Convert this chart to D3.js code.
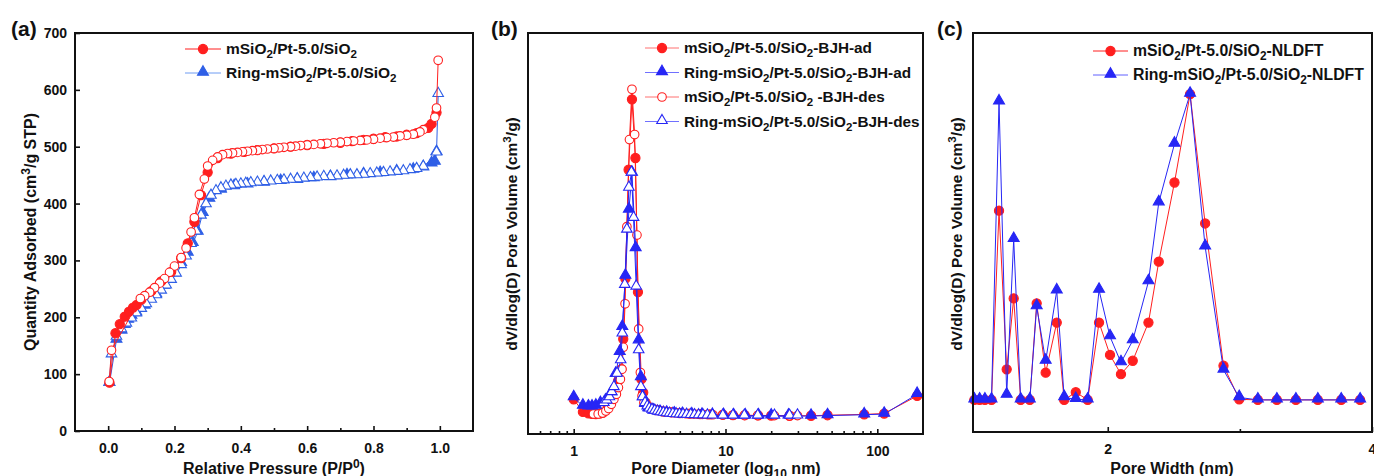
<!DOCTYPE html>
<html>
<head>
<meta charset="utf-8">
<script src="https://cdn.jsdelivr.net/npm/d3@7"></script>
<style>
  body { margin: 0; background: #fff; }
  svg { display: block; }
  text { font-family: Arial, "Liberation Sans", sans-serif; font-weight: bold; fill: #111; }
</style>
</head>
<body>
<div id="chart"></div>
<script>
// ---------- (a) N2 isotherms ----------
const isoRedAdsP = [0.004, 0.022, 0.035, 0.05, 0.063, 0.075, 0.086, 0.1, 0.13, 0.16, 0.19, 0.22, 0.24, 0.26, 0.28, 0.30, 0.33, 0.37, 0.41, 0.45, 0.5, 0.55, 0.6, 0.65, 0.7, 0.735, 0.77, 0.80, 0.835, 0.87, 0.9, 0.93, 0.965, 0.975, 0.99];
const isoRedAdsV = [85, 172, 188, 201, 210, 217, 222, 231, 246, 263, 280, 304, 330, 368, 415, 455, 480, 488, 491, 494, 497, 500, 503, 505, 507, 510, 512, 514, 517, 518, 521, 524, 533, 540, 560];
const isoRedDesP = [0.995, 0.99, 0.985, 0.95, 0.94, 0.92, 0.90, 0.88, 0.86, 0.84, 0.82, 0.80, 0.78, 0.76, 0.74, 0.72, 0.70, 0.68, 0.66, 0.64, 0.62, 0.60, 0.58, 0.565, 0.55, 0.53, 0.515, 0.50, 0.48, 0.465, 0.45, 0.435, 0.42, 0.405, 0.39, 0.375, 0.36, 0.345, 0.33, 0.315, 0.30, 0.29, 0.275, 0.26, 0.25, 0.235, 0.22, 0.20, 0.185, 0.17, 0.155, 0.14, 0.125, 0.11, 0.097, 0.01, 0.003];
const isoRedDesV = [652, 568, 552, 530, 526, 522, 520, 519, 517, 516, 515, 513, 512, 511, 510, 509, 508, 507, 506, 505, 504, 503, 502, 501, 500, 499, 498, 497, 496, 495, 494, 493, 492, 491, 490, 489, 488, 486, 482, 476, 466, 443, 416, 375, 350, 322, 305, 290, 279, 268, 260, 252, 244, 238, 233, 142, 87];
const isoBlueAdsP = [0.004, 0.025, 0.04, 0.05, 0.06, 0.07, 0.085, 0.11, 0.145, 0.17, 0.2, 0.22, 0.24, 0.255, 0.27, 0.285, 0.305, 0.34, 0.38, 0.42, 0.47, 0.52, 0.57, 0.62, 0.67, 0.72, 0.77, 0.82, 0.87, 0.92, 0.95, 0.975, 0.985, 0.99];
const isoBlueAdsV = [84, 160, 176, 186, 195, 202, 208, 220, 240, 255, 277, 295, 313, 330, 350, 383, 408, 424, 430, 433, 436, 439, 441, 444, 446, 449, 451, 453, 456, 459, 463, 470, 473, 490];
const isoBlueDesP = [0.995, 0.99, 0.95, 0.93, 0.91, 0.89, 0.87, 0.85, 0.83, 0.81, 0.79, 0.77, 0.75, 0.73, 0.71, 0.69, 0.67, 0.65, 0.63, 0.61, 0.59, 0.57, 0.55, 0.53, 0.51, 0.49, 0.47, 0.45, 0.43, 0.415, 0.40, 0.385, 0.37, 0.355, 0.34, 0.325, 0.31, 0.295, 0.28, 0.265, 0.25, 0.235, 0.22, 0.205, 0.19, 0.175, 0.16, 0.145, 0.13, 0.115, 0.1, 0.085, 0.07, 0.055, 0.04, 0.025, 0.01, 0.003];
const isoBlueDesV = [592, 489, 464, 460, 458, 456, 455, 454, 453, 452, 451, 450, 449, 449, 448, 447, 446, 446, 445, 444, 443, 442, 441, 440, 439, 438, 437, 436, 435, 434, 433, 432, 431, 429, 426, 421, 413, 398, 378, 350, 328, 306, 291, 276, 265, 255, 246, 238, 230, 222, 214, 206, 197, 188, 178, 165, 134, 84];
const isoXTicks = [0.0, 0.2, 0.4, 0.6, 0.8, 1.0];
const isoYTicks = [0, 100, 200, 300, 400, 500, 600, 700];

// ---------- (b) BJH pore size distribution ----------
const bjhRedAdX = [1.0, 1.15, 1.25, 1.32, 1.4, 1.48, 1.56, 1.68, 1.78, 1.86, 1.96, 2.06, 2.12, 2.19, 2.30, 2.42, 2.55, 2.65, 2.79, 2.87, 2.98, 3.2, 3.5, 3.9, 4.4, 5.0, 5.8, 6.8, 7.9, 9.6, 11.2, 13.4, 16.4, 20, 26.4, 36.6, 47, 82, 111, 183];
const bjhRedAdV = [0.15, 0.075, 0.066, 0.063, 0.062, 0.064, 0.07, 0.11, 0.15, 0.2, 0.26, 0.33, 0.51, 0.87, 1.52, 1.94, 1.59, 0.79, 0.27, 0.19, 0.13, 0.10, 0.085, 0.077, 0.072, 0.068, 0.065, 0.062, 0.06, 0.058, 0.056, 0.055, 0.054, 0.053, 0.052, 0.052, 0.055, 0.06, 0.065, 0.17];
const bjhRedDesX = [1.35, 1.45, 1.55, 1.63, 1.70, 1.77, 1.84, 1.91, 1.97, 2.03, 2.08, 2.12, 2.18, 2.24, 2.33, 2.42, 2.52, 2.61, 2.68, 2.75, 2.82, 2.9, 3.0, 3.1, 3.22, 3.35, 3.5, 3.65, 3.82, 4.0, 4.2, 4.42, 4.65, 4.9, 5.2, 5.5, 5.85, 6.2, 6.6, 7.05, 7.6, 8.26, 9.6, 11.2, 13.3, 16.3, 21, 26.4, 29.8];
const bjhRedDesV = [0.062, 0.063, 0.068, 0.08, 0.095, 0.12, 0.15, 0.18, 0.22, 0.27, 0.33, 0.46, 0.72, 1.18, 1.70, 2.0, 1.73, 1.13, 0.57, 0.31, 0.17, 0.13, 0.115, 0.105, 0.098, 0.092, 0.088, 0.084, 0.08, 0.077, 0.074, 0.072, 0.07, 0.068, 0.066, 0.064, 0.063, 0.062, 0.061, 0.06, 0.059, 0.058, 0.056, 0.055, 0.054, 0.053, 0.053, 0.052, 0.053];
const bjhBlueAdX = [1.0, 1.15, 1.25, 1.32, 1.4, 1.5, 1.62, 1.77, 1.89, 2.01, 2.09, 2.19, 2.31, 2.42, 2.56, 2.68, 2.77, 2.86, 2.95, 3.1, 3.35, 3.7, 4.1, 4.6, 5.2, 6.0, 7.0, 8.2, 9.7, 11.3, 13.5, 16.5, 20, 26, 36.6, 47, 82, 111, 183];
const bjhBlueAdV = [0.16, 0.11, 0.105, 0.105, 0.11, 0.125, 0.14, 0.19, 0.30, 0.43, 0.58, 0.885, 1.28, 1.50, 1.05, 0.50, 0.28, 0.16, 0.12, 0.095, 0.08, 0.072, 0.067, 0.063, 0.06, 0.058, 0.056, 0.055, 0.054, 0.053, 0.052, 0.052, 0.051, 0.051, 0.05, 0.053, 0.058, 0.062, 0.18];
const bjhBlueDesX = [1.58, 1.65, 1.72, 1.78, 1.84, 1.93, 2.04, 2.09, 2.17, 2.24, 2.31, 2.40, 2.48, 2.58, 2.68, 2.77, 2.84, 2.95, 3.05, 3.15, 3.28, 3.42, 3.57, 3.73, 3.9, 4.08, 4.28, 4.5, 4.73, 4.98, 5.25, 5.55, 5.9, 6.25, 6.65, 7.1, 7.6, 8.2, 9.6, 11.2, 13.3, 16.3, 21, 26.4, 29.8];
const bjhBlueDesV = [0.125, 0.14, 0.16, 0.19, 0.22, 0.30, 0.38, 0.54, 0.83, 1.16, 1.41, 1.50, 1.23, 0.82, 0.44, 0.22, 0.16, 0.125, 0.105, 0.092, 0.085, 0.079, 0.074, 0.07, 0.067, 0.064, 0.062, 0.06, 0.058, 0.057, 0.056, 0.055, 0.054, 0.053, 0.052, 0.052, 0.051, 0.051, 0.05, 0.05, 0.05, 0.05, 0.05, 0.05, 0.051];
const bjhXTicks = [1, 10, 100];

// ---------- (c) NLDFT pore size distribution ----------
const dftX = [0.99, 1.03, 1.07, 1.12, 1.177, 1.235, 1.288, 1.341, 1.41, 1.462, 1.53, 1.614, 1.67, 1.758, 1.848, 1.934, 2.017, 2.10, 2.189, 2.308, 2.386, 2.505, 2.623, 2.737, 2.876, 2.995, 3.136, 3.28, 3.424, 3.59, 3.767, 3.91];
const dftRedV = [0, 0, 0, 0, 0.619, 0.10, 0.332, 0, 0, 0.316, 0.089, 0.253, 0, 0.025, 0, 0.253, 0.147, 0.084, 0.128, 0.253, 0.452, 0.711, 1.0, 0.577, 0.112, 0.002, 0, 0, 0, 0, 0, 0];
const dftBlueV = [0, 0, 0, 0, 0.975, 0.016, 0.525, 0, 0, 0.305, 0.127, 0.357, 0.008, 0.002, 0, 0.359, 0.207, 0.122, 0.194, 0.387, 0.645, 0.837, 1.0, 0.501, 0.098, 0.008, 0, 0, 0, 0, 0, 0];
const dftXTicks = [2, 4];

const RED = "#ff1f1f";
const BLUE_A = "#2f5fe6";
const BLUE = "#2626f5";

const svg = d3.select("#chart").append("svg")
    .attr("width", 1374)
    .attr("height", 476);

svg.append("rect").attr("width", 1374).attr("height", 476).attr("fill", "#fff");

// label text with "_2" subscripts and "^3" superscripts
function richText(sel, str) {
    let parts = str.split(/([_^][0-9]+)/);
    let shift = 0;
    parts.forEach(p => {
        if (p === "") return;
        if (p[0] === "_" || p[0] === "^") {
            let d = p[0] === "_" ? 4 : -6;
            sel.append("tspan").attr("dy", d - shift).attr("font-size", "75%").text(p.slice(1));
            shift = d;
        } else {
            sel.append("tspan").attr("dy", -shift).text(p);
            shift = 0;
        }
    });
}

function drawMarker(g, x, y, shape, color, filled) {
    if (shape === "circle") {
        g.append("circle")
            .attr("cx", x).attr("cy", y).attr("r", filled ? 4.6 : 4.3)
            .attr("fill", filled ? color : "#fff")
            .attr("stroke", color).attr("stroke-width", 1.1);
    } else {
        g.append("path")
            .attr("d", d3.symbol().type(d3.symbolTriangle).size(filled ? 52 : 48)())
            .attr("transform", "translate(" + x + "," + (y - 1) + ")")
            .attr("fill", filled ? color : "#fff")
            .attr("stroke", color).attr("stroke-width", 1.1);
    }
}

function drawSeries(g, xs, ys, xScale, yScale, shape, color, filled, lineColor) {
    let pts = xs.map((d, i) => [xScale(d), yScale(ys[i])]);
    g.append("path")
        .attr("d", d3.line()(pts))
        .attr("fill", "none")
        .attr("stroke", lineColor || color)
        .attr("stroke-width", 1);
    let mg = g.append("g");
    pts.forEach(p => drawMarker(mg, p[0], p[1], shape, color, filled));
}

function drawLegend(g, x, y, rows, fontSize) {
    rows.forEach((r, i) => {
        let yy = y + i * r.gap;
        g.append("line")
            .attr("x1", x).attr("x2", x + r.len)
            .attr("y1", yy).attr("y2", yy)
            .attr("stroke", r.line || r.color).attr("stroke-width", 1);
        drawMarker(g, x + r.len / 2, yy, r.shape, r.color, r.filled);
        let t = g.append("text")
            .attr("x", x + r.len + 5)
            .attr("y", yy + 5)
            .attr("font-size", fontSize);
        richText(t, r.label);
    });
}

function frame(g, x0, x1, y0, y1) {
    g.append("rect")
        .attr("x", x0).attr("y", y0)
        .attr("width", x1 - x0).attr("height", y1 - y0)
        .attr("fill", "none").attr("stroke", "#111").attr("stroke-width", 2);
}

function styleAxis(ax) {
    ax.select(".domain").remove();
    ax.selectAll(".tick line").attr("stroke", "#111").attr("stroke-width", 1.6);
    ax.selectAll(".tick text").attr("font-size", 14).attr("font-weight", "bold")
        .attr("font-family", "Arial, 'Liberation Sans', sans-serif").attr("fill", "#111");
}

// ================= panel (a) =================
{
    let g = svg.append("g");
    let x0 = 75, x1 = 473, y0 = 33, y1 = 431;
    let xScale = d3.scaleLinear().domain([-0.1, 1.1]).range([x0, x1]);
    let yScale = d3.scaleLinear().domain([0, 700]).range([y1, y0]);

    let xAxis = g.append("g").attr("transform", "translate(0," + y1 + ")")
        .call(d3.axisBottom(xScale).tickValues(isoXTicks).tickSize(-5).tickPadding(12).tickFormat(d3.format(".1f")));
    styleAxis(xAxis);
    let xMinor = g.append("g").attr("transform", "translate(0," + y1 + ")")
        .call(d3.axisBottom(xScale).tickValues([0.1, 0.3, 0.5, 0.7, 0.9]).tickSize(-3).tickFormat(""));
    styleAxis(xMinor);
    let yAxis = g.append("g").attr("transform", "translate(" + x0 + ",0)")
        .call(d3.axisLeft(yScale).tickValues(isoYTicks).tickSize(-5).tickPadding(8));
    styleAxis(yAxis);

    drawSeries(g, isoBlueAdsP, isoBlueAdsV, xScale, yScale, "tri", BLUE_A, true);
    drawSeries(g, isoBlueDesP, isoBlueDesV, xScale, yScale, "tri", BLUE_A, false);
    drawSeries(g, isoRedAdsP, isoRedAdsV, xScale, yScale, "circle", RED, true);
    drawSeries(g, isoRedDesP, isoRedDesV, xScale, yScale, "circle", RED, false);

    frame(g, x0, x1, y0, y1);

    drawLegend(g, 185, 49, [
        { label: "mSiO_2/Pt-5.0/SiO_2", color: RED, shape: "circle", filled: true, len: 36, gap: 24 },
        { label: "Ring-mSiO_2/Pt-5.0/SiO_2", color: BLUE_A, line: "#6f9cf2", shape: "tri", filled: true, len: 36, gap: 24 }
    ], 15.5);

    g.append("text").attr("x", 11).attr("y", 36).attr("font-size", 21).text("(a)");
    let yt = g.append("text").attr("transform", "translate(36,232) rotate(-90)")
        .attr("text-anchor", "middle").attr("font-size", 16);
    richText(yt, "Quantity Adsorbed (cm^3/g STP)");
    let xt = g.append("text").attr("x", 274).attr("y", 474)
        .attr("text-anchor", "middle").attr("font-size", 16);
    richText(xt, "Relative Pressure (P/P^0)");
}

// ================= panel (b) =================
{
    let g = svg.append("g");
    let x0 = 528, x1 = 923, y0 = 33, y1 = 434;
    let xScale = d3.scaleLog().domain([0.5, 200]).range([x0, x1]);
    let yScale = d3.scaleLinear().domain([-0.057, 2.336]).range([y1, y0]);

    let minors = [0.6, 0.7, 0.8, 0.9, 2, 3, 4, 5, 6, 7, 8, 9, 20, 30, 40, 50, 60, 70, 80, 90];
    let xAxis = g.append("g").attr("transform", "translate(0," + y1 + ")")
        .call(d3.axisBottom(xScale).tickValues(bjhXTicks).tickSize(-5).tickPadding(12).tickFormat(d3.format("d")));
    styleAxis(xAxis);
    let xMinor = g.append("g").attr("transform", "translate(0," + y1 + ")")
        .call(d3.axisBottom(xScale).tickValues(minors).tickSize(-3).tickFormat(""));
    styleAxis(xMinor);

    drawSeries(g, bjhRedAdX, bjhRedAdV, xScale, yScale, "circle", RED, true);
    drawSeries(g, bjhRedDesX, bjhRedDesV, xScale, yScale, "circle", RED, false);
    drawSeries(g, bjhBlueAdX, bjhBlueAdV, xScale, yScale, "tri", BLUE, true);
    drawSeries(g, bjhBlueDesX, bjhBlueDesV, xScale, yScale, "tri", BLUE, false);

    frame(g, x0, x1, y0, y1);

    drawLegend(g, 645, 48, [
        { label: "mSiO_2/Pt-5.0/SiO_2-BJH-ad", color: RED, line: "#ff7070", shape: "circle", filled: true, len: 34, gap: 24.5 },
        { label: "Ring-mSiO_2/Pt-5.0/SiO_2-BJH-ad", color: BLUE, line: "#7070ff", shape: "tri", filled: true, len: 34, gap: 24.5 },
        { label: "mSiO_2/Pt-5.0/SiO_2 -BJH-des", color: RED, line: "#ff7070", shape: "circle", filled: false, len: 34, gap: 24.5 },
        { label: "Ring-mSiO_2/Pt-5.0/SiO_2-BJH-des", color: BLUE, line: "#7070ff", shape: "tri", filled: false, len: 34, gap: 24.5 }
    ], 15.3);

    g.append("text").attr("x", 491).attr("y", 36).attr("font-size", 21).text("(b)");
    let yt = g.append("text").attr("transform", "translate(517,234) rotate(-90)")
        .attr("text-anchor", "middle").attr("font-size", 15.5);
    richText(yt, "dV/dlog(D) Pore Volume (cm^3/g)");
    let xt = g.append("text").attr("x", 726).attr("y", 474)
        .attr("text-anchor", "middle").attr("font-size", 16);
    richText(xt, "Pore Diameter (log_10 nm)");
}

// ================= panel (c) =================
{
    let g = svg.append("g");
    let x0 = 973, x1 = 1372, y0 = 33, y1 = 432;
    let xScale = d3.scaleLinear().domain([0.98, 4]).range([x0, x1]);
    let yScale = d3.scaleLinear().domain([-0.105, 1.2]).range([y1, y0]);

    let xAxis = g.append("g").attr("transform", "translate(0," + y1 + ")")
        .call(d3.axisBottom(xScale).tickValues(dftXTicks).tickSize(-5).tickPadding(12).tickFormat(d3.format("d")));
    styleAxis(xAxis);
    let xMinor = g.append("g").attr("transform", "translate(0," + y1 + ")")
        .call(d3.axisBottom(xScale).tickValues([3]).tickSize(-3).tickFormat(""));
    styleAxis(xMinor);

    drawSeries(g, dftX, dftRedV, xScale, yScale, "circle", RED, true);
    drawSeries(g, dftX, dftBlueV, xScale, yScale, "tri", BLUE, true);

    frame(g, x0, x1, y0, y1);

    drawLegend(g, 1093, 51, [
        { label: "mSiO_2/Pt-5.0/SiO_2-NLDFT", color: RED, shape: "circle", filled: true, len: 35, gap: 24 },
        { label: "Ring-mSiO_2/Pt-5.0/SiO_2-NLDFT", color: BLUE, line: "#6060ff", shape: "tri", filled: true, len: 35, gap: 24 }
    ], 15.8);

    g.append("text").attr("x", 937).attr("y", 36).attr("font-size", 21).text("(c)");
    let yt = g.append("text").attr("transform", "translate(962,234) rotate(-90)")
        .attr("text-anchor", "middle").attr("font-size", 15.5);
    richText(yt, "dV/dlog(D) Pore Volume (cm^3/g)");
    g.append("text").attr("x", 1172).attr("y", 474)
        .attr("text-anchor", "middle").attr("font-size", 16).text("Pore Width (nm)");
}
</script>
</body>
</html>
